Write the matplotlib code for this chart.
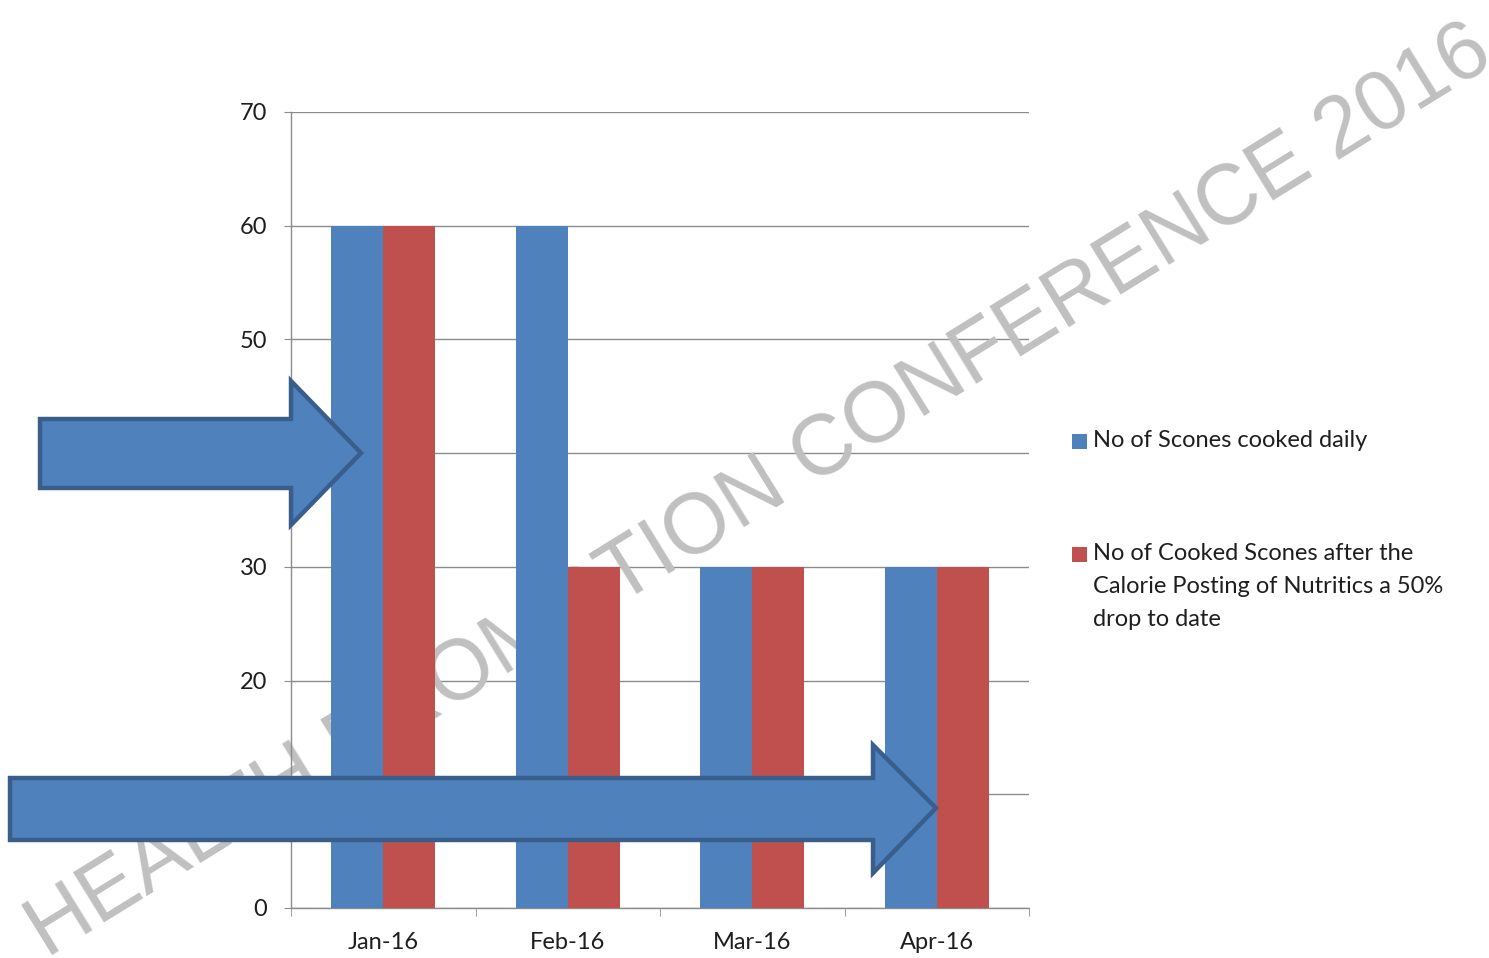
import matplotlib
matplotlib.use("Agg")
import matplotlib.pyplot as plt
import numpy as np
from matplotlib.patches import Polygon, Rectangle

# ── data ────────────────────────────────────────────────────────────────────
MONTHS = ["Jan-16", "Feb-16", "Mar-16", "Apr-16"]
SCONES_DAILY = [60, 60, 30, 30]
SCONES_AFTER = [60, 30, 30, 30]
SERIES_LABELS = [
    "No of Scones cooked daily",
    "No of Cooked Scones after the\nCalorie Posting of Nutritics a 50%\ndrop to date",
]
Y_TICKS = [0, 10, 20, 30, 40, 50, 60, 70]
WATERMARK = "HEALTH PROMOTION CONFERENCE 2016"

BLUE = "#4f81bd"
RED = "#c0504d"
ARROW_EDGE = "#3a5e8c"
GRID = "#8c8c8c"
TEXT = "#1e1e1e"
FONT = "Lato"

W, H = 1489, 958


def px(x, y):
    """pixel (from top-left) -> figure fraction"""
    return (x / W, 1 - y / H)


fig = plt.figure(figsize=(W / 100, H / 100), dpi=100)
ax = fig.add_axes([291 / W, 1 - 908 / H, (1029 - 291) / W, (908 - 112) / H])
ax.patch.set_alpha(0)

x = np.arange(len(MONTHS))
bw = 0.282
ax.bar(x - bw / 2, SCONES_DAILY, bw, color=BLUE, zorder=3, label=SERIES_LABELS[0])
ax.bar(x + bw / 2, SCONES_AFTER, bw, color=RED, zorder=3, label=SERIES_LABELS[1])

ax.set_xlim(-0.5, len(MONTHS) - 0.5)
ax.set_ylim(0, 70)
ax.set_yticks(Y_TICKS)
ax.set_yticklabels([str(t) for t in Y_TICKS], fontsize=17, family=FONT, color=TEXT)
ax.set_xticks(x)
ax.set_xticklabels(MONTHS, fontsize=17, family=FONT, color=TEXT)
ax.set_xticks(np.arange(-0.5, len(MONTHS)), minor=True)
ax.tick_params(axis="x", which="major", length=0, pad=17)
ax.tick_params(axis="x", which="minor", length=6, color=GRID, direction="out")
ax.tick_params(axis="y", length=5, color=GRID, pad=12)

ax.grid(axis="y", color=GRID, linewidth=1.0, zorder=0)
ax.set_axisbelow(True)
for s in ["top", "right"]:
    ax.spines[s].set_visible(False)
for s in ["left", "bottom"]:
    ax.spines[s].set_color(GRID)
    ax.spines[s].set_linewidth(1.0)

# watermark, behind the bars
ax.text(*px(760, 492), WATERMARK, transform=fig.transFigure, rotation=31.7,
        rotation_mode="anchor", ha="center", va="center", fontsize=61,
        family="Liberation Sans", color="#c0c0c0", zorder=1.5, clip_on=False)

# legend drawn by hand so the square sits on the first line
colors = [BLUE, RED]
leg_y = [443, 556]
for c, lab, yy in zip(colors, SERIES_LABELS, leg_y):
    x0, y0 = px(1072, yy + 6)
    fig.add_artist(Rectangle((x0, y0), 15 / W, 15 / H, transform=fig.transFigure,
                             facecolor=c, edgecolor="none"))
    fig.text(*px(1093, yy - 13), lab, ha="left", va="top", fontsize=17,
             family=FONT, color=TEXT, linespacing=1.72)

# annotation arrows on top
arrows = [
    [(40, 419), (291, 419), (291, 381), (361, 453), (291, 525), (291, 488), (40, 488)],
    [(10, 778), (873, 778), (873, 745), (936, 808), (873, 873), (873, 840), (10, 840)],
]
for pts in arrows:
    fig.add_artist(Polygon([px(a, b) for a, b in pts], closed=True,
                           transform=fig.transFigure, facecolor=BLUE,
                           edgecolor=ARROW_EDGE, linewidth=3.2, zorder=5))

fig.savefig("out.png", dpi=100)
